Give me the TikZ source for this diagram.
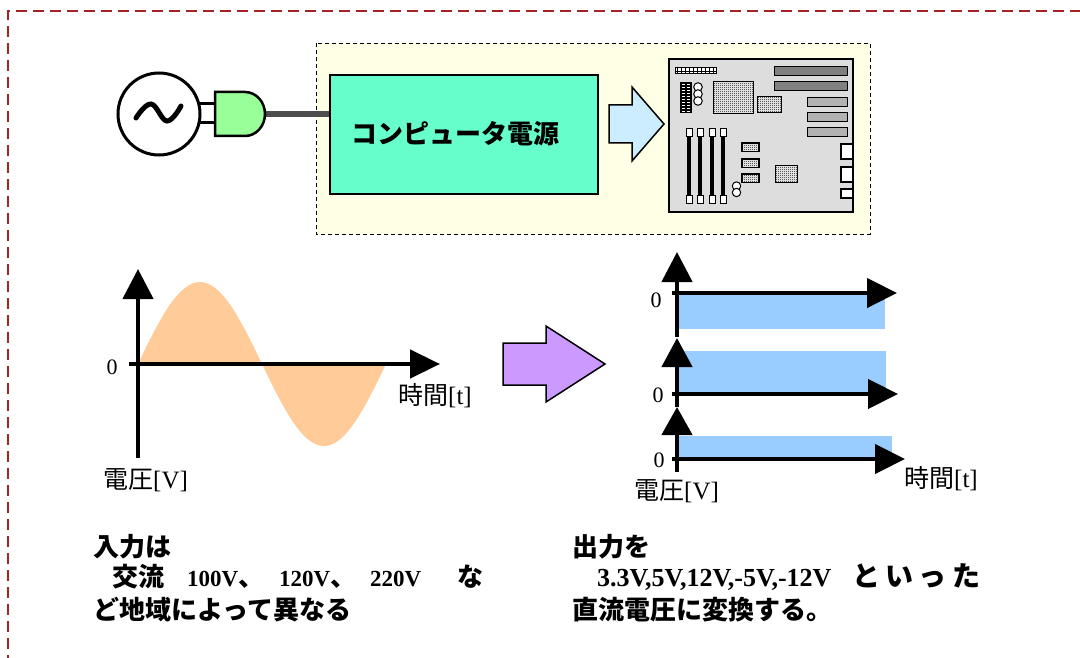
\documentclass[tikz,border=0pt]{standalone}
\usepackage{fontspec}
\setmainfont{Liberation Serif}
\newfontfamily\jp{Noto Sans CJK JP}
\usetikzlibrary{arrows.meta,patterns,patterns.meta}

\definecolor{framered}{RGB}{165,35,35}
\definecolor{paleyellow}{RGB}{255,255,229}
\definecolor{psugreen}{RGB}{102,255,204}
\definecolor{pluggreen}{RGB}{153,255,153}
\definecolor{cablegray}{RGB}{77,77,77}
\definecolor{arrowblue}{RGB}{204,236,255}
\definecolor{arrowpurple}{RGB}{204,153,255}
\definecolor{waveorange}{RGB}{255,204,153}
\definecolor{dcblue}{RGB}{153,204,255}
\definecolor{boardgray}{RGB}{221,221,221}
\definecolor{slotdark}{RGB}{128,128,128}
\definecolor{slotlight}{RGB}{178,178,178}

\newcommand\numtxt[1]{{\normalfont\bfseries\fontsize{23}{26}\selectfont #1}}
\newcommand\numbig[1]{{\normalfont\bfseries\fontsize{26}{28}\selectfont #1}}

% fine chequer used for the chips on the board
\tikzdeclarepattern{
  name=finecheck,
  type=uncolored,
  bottom left={(0pt,0pt)},
  top right={(2pt,2pt)},
  tile size={(2pt,2pt)},
  code={
    \pgfpathrectangle{\pgfpointorigin}{\pgfpoint{1pt}{1pt}}
    \pgfpathrectangle{\pgfpoint{1pt}{1pt}}{\pgfpoint{1pt}{1pt}}
    \pgfusepath{fill}
  }
}

\begin{document}
\begin{tikzpicture}[x=1pt,y=-1pt,
  txt/.style={inner sep=0pt},
  lbl/.style={txt,font=\fontsize{25}{28}\selectfont},
  zero/.style={txt,font=\fontsize{22}{24}\selectfont},
  body/.style={txt,anchor=base west,font=\jp\bfseries\fontsize{26}{30}\selectfont},
  axis/.style={line width=4.5pt,-{Triangle[length=30pt,width=30pt]}},
  blockarrow/.style={draw=black,line width=1.5pt,line join=miter},
  chip/.style={draw=black,line width=1pt,preaction={fill=white},pattern=finecheck,pattern color=black},
  slot/.style={draw=black,line width=1pt},
  slotcap/.style={draw=black,fill=white,line width=0.8pt},
  port/.style={draw=black,fill=white,line width=1.5pt}]
\useasboundingbox (0,0) rectangle (1080,658);

% outer frame
\draw[framered,line width=1.5pt,dash pattern=on 11pt off 6pt] (8,700) -- (8,11) -- (1100,11);

% power supply enclosure
\draw[fill=paleyellow,line width=0.8pt,dash pattern=on 4pt off 3pt] (316,43) rectangle (870,234);
\node[draw=black,line width=1.5pt,fill=psugreen,minimum width=268pt,minimum height=119pt,inner sep=0pt] (psu) at (464,134.5) {};
\node[txt,font=\jp\bfseries\fontsize{26}{28}\selectfont] (psulabel) at (455,134) {コンピュータ電源};

% AC source and plug
\coordinate (plugtip) at (265,114);
\draw[line width=6pt,cablegray] (plugtip) -- (plugtip -| psu.west);
\draw[line width=3pt] (192,104) -- (216,104) (192,123) -- (216,123);
\draw[line width=3pt,fill=white] (159,114) circle[radius=41];
\draw[line width=5pt,line cap=round] plot[smooth,tension=0.7] coordinates {(136,118) (151,104) (167,121) (181,106)};
\draw[line width=2.5pt,fill=pluggreen] (215,92) -- (245,92) arc[start angle=-90,end angle=90,x radius=20,y radius=22] -- (215,136) -- cycle;

% arrow to the motherboard
\draw[blockarrow,fill=arrowblue] (609,105) -- (632,105) -- (632,87) -- (664,124) -- (632,161) -- (632,143) -- (609,143) -- cycle;

% motherboard
\draw[fill=boardgray,line width=1.5pt] (669,59) rectangle (853,212);
\draw[fill=white,line width=1pt] (675,68) rectangle (716,74);
\draw[line width=0.8pt] (675,71) -- (716,71);
\foreach \i in {0,...,9} \draw[line width=0.8pt] (677.5+4*\i,68) -- (677.5+4*\i,74);
\fill[black] (680,82) rectangle (692,113);
\foreach \i in {0,...,9} \draw[white,line width=0.7pt] (682,84.5+3*\i) -- (685,84.5+3*\i) (687,84.5+3*\i) -- (690,84.5+3*\i);
\foreach \yy in {87,94,101} \draw[fill=white,line width=1pt] (698,\yy) circle[radius=4.3];
\path[chip] (713,82) rectangle (753,114);
\path[chip] (757,97) rectangle (781,113);
\draw[slot,fill=slotdark] (774,67) rectangle (847,76);
\draw[slot,fill=slotdark] (774,82) rectangle (847,91);
\foreach \yy in {98,113,128} \draw[slot,fill=slotlight] (807,\yy) rectangle (847,\yy+8.5);
\foreach \xx in {689,700,712,723} {
  \fill[black] (\xx-2,130) rectangle (\xx+2,200);
  \draw[slotcap] (\xx-3,128) rectangle (\xx+3,136);
  \draw[slotcap] (\xx-3,195) rectangle (\xx+3,203);
}
\foreach \yy in {143,159,174} \path[chip,line width=1.5pt] (742,\yy) rectangle (759,\yy+8.5);
\path[chip] (775,166) rectangle (797,183);
\foreach \yy in {186,192.5} \draw[fill=white,line width=1pt] (736.5,\yy) circle[radius=4.2];
\draw[port] (841,144) rectangle (853,159);
\draw[port] (841,167) rectangle (853,182);
\draw[port] (841,189) rectangle (853,198);

% AC waveform
\fill[waveorange] plot[domain=0:248,samples=120] ({138+\x},{364-82*sin(\x/248*360)}) -- cycle;
\coordinate (acvb) at (138,458);
\coordinate (acvt) at (138,269);
\coordinate (achl) at (129,364);
\coordinate (achr) at (440,364);
\draw[axis] (acvb) -- (acvt);
\draw[axis,-{Triangle[length=30pt,width=28pt]}] (achl) -- (achr);
\node[zero] (aczero) at (112,367) {0};
\node[lbl,anchor=west] (actime) at (398,396) {{\jp 時間}[t]};
\node[lbl,anchor=west] (acvolt) at (103,480) {{\jp 電圧}[V]};

% conversion arrow
\draw[blockarrow,fill=arrowpurple] (503,343) -- (546,343) -- (546,326) -- (605,364) -- (546,402) -- (546,385) -- (503,385) -- cycle;

% DC outputs
\fill[dcblue] (677,295) rectangle (885,329);
\fill[dcblue] (677,351) rectangle (886,392);
\fill[dcblue] (677,436) rectangle (892,459);
\coordinate (v1b) at (677,337); \coordinate (v1t) at (677,252);
\coordinate (v2b) at (677,407); \coordinate (v2t) at (677,338);
\coordinate (v3b) at (677,472); \coordinate (v3t) at (677,407);
\coordinate (h1l) at (672,293); \coordinate (h1r) at (897,293);
\coordinate (h2l) at (672,394); \coordinate (h2r) at (898,394);
\coordinate (h3l) at (672,459); \coordinate (h3r) at (905,459);
\draw[axis] (v1b) -- (v1t);
\draw[axis,-{Triangle[length=29pt,width=30pt]}] (v2b) -- (v2t);
\draw[axis,-{Triangle[length=28pt,width=30pt]}] (v3b) -- (v3t);
\draw[axis,-{Triangle[length=30pt,width=29pt]}] (h1l) -- (h1r);
\draw[axis,-{Triangle[length=30pt,width=29pt]}] (h2l) -- (h2r);
\draw[axis,-{Triangle[length=30pt,width=29pt]}] (h3l) -- (h3r);
\node[zero] (dczero1) at (656,300) {0};
\node[zero] (dczero2) at (658,395) {0};
\node[zero] (dczero3) at (659,460) {0};
\node[lbl,anchor=west] (dctime) at (904,479) {{\jp 時間}[t]};
\node[lbl,anchor=west] (dcvolt) at (634,491) {{\jp 電圧}[V]};

% captions
\node[body] (inl1) at (93,556) {入力は};
\node[body] (inl2) at (112,586) {\makebox[75pt][l]{交流}\makebox[92pt][l]{\numtxt{100V}、}\makebox[91pt][l]{\numtxt{120V}、}\makebox[87pt][l]{\numtxt{220V}}な};
\node[body] (inl3) at (93,619) {ど地域によって異なる};
\node[body] (outl1) at (572,556) {出力を};
\node[body] (outl2) at (597,586) {\makebox[255pt][l]{\numbig{3.3V,5V,12V,-5V,-12V}}{\fontsize{28}{30}\selectfont\makebox[33pt][l]{と}\makebox[33pt][l]{い}\makebox[34pt][l]{っ}た}};
\node[body] (outl3) at (572,619) {直流電圧に変換する。};
\end{tikzpicture}
\end{document}
